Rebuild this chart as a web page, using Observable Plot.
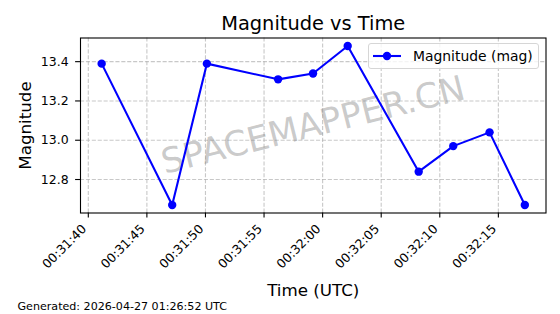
<!DOCTYPE html>
<html>
<head>
<meta charset="utf-8">
<script src="https://cdn.jsdelivr.net/npm/d3@7"></script>
<script src="https://cdn.jsdelivr.net/npm/@observablehq/plot@0.6"></script>
<style>
  html, body { margin: 0; padding: 0; background: white; }
  #wrap { position: relative; width: 560px; height: 314px; font-family: "DejaVu Sans", sans-serif; }
  #legend { position: absolute; left: 368px; top: 43px; width: 171px; height: 26px;
    border: 1px solid #d6d6d6; border-radius: 3px; background: rgba(255,255,255,0.8);
    display: flex; align-items: center; box-sizing: border-box; }
  #legend span { font-size: 13.9px; color: #000; margin-left: 10px; white-space: nowrap; }
</style>
</head>
<body>
<div id="wrap"></div>
<script>
// ---- data ----
const day = "2026-04-27";
const times = ["00:31:41.14","00:31:47.16","00:31:50.12","00:31:56.20","00:31:59.18",
               "00:32:02.14","00:32:08.20","00:32:11.15","00:32:14.25","00:32:17.26"];
const mags = [13.39, 12.67, 13.39, 13.31, 13.34, 13.48, 12.84, 12.97, 13.04, 12.67];
const xTickLabels = ["00:31:40","00:31:45","00:31:50","00:31:55","00:32:00","00:32:05","00:32:10","00:32:15"];
const yTicks = [12.8, 13.0, 13.2, 13.4];
const title = "Magnitude vs Time";
const xLabel = "Time (UTC)";
const yLabel = "Magnitude";
const seriesName = "Magnitude (mag)";
const watermark = "SPACEMAPPER.CN";
const footer = "Generated: 2026-04-27 01:26:52 UTC";

// ---- build ----
const parse = s => new Date(`${day}T${s}Z`);
const data = times.map((t, i) => ({t: parse(t), m: mags[i]}));
const xTicks = xTickLabels.map(parse);
const fmt = d3.utcFormat("%H:%M:%S");

function pad(ext) { const s = ext[1] - ext[0]; return [+ext[0] - 0.05 * s, +ext[1] + 0.05 * s]; }
const xd = pad(d3.extent(data, d => +d.t)).map(v => new Date(v));
const yd = pad(d3.extent(data, d => d.m));

const gridStyle = {stroke: "#b0b0b0", strokeOpacity: 0.7, strokeDasharray: "4.1,1.8", strokeWidth: 1.1};

const chart = Plot.plot({
  width: 560, height: 314,
  marginLeft: 80, marginRight: 14.5, marginTop: 37.5, marginBottom: 101.5,
  style: {fontFamily: "DejaVu Sans, sans-serif", fontSize: "12.5px", color: "black", background: "white", overflow: "visible"},
  x: {type: "utc", domain: xd},
  y: {domain: yd},
  marks: [
    Plot.gridX(xTicks, gridStyle),
    Plot.gridY(yTicks, gridStyle),
    Plot.text([watermark], {frameAnchor: "middle", text: d => d, rotate: -14, fontSize: 34.7,
      fill: "gray", fillOpacity: 0.42, textAnchor: "middle", lineAnchor: "middle"}),
    Plot.line(data, {x: "t", y: "m", stroke: "#0000ff", strokeWidth: 2.1}),
    Plot.dot(data, {x: "t", y: "m", r: 4.2, fill: "#0000ff", stroke: null}),
    Plot.frame({stroke: "black", strokeWidth: 1.1}),
    Plot.axisX({ticks: xTicks, tickSize: 4.9, tickFormat: () => "", label: null, strokeWidth: 1.1, stroke: "black"}),
    Plot.text(xTicks, {x: d => d, frameAnchor: "bottom", text: d => fmt(d), rotate: -45,
      textAnchor: "end", lineAnchor: "middle", dx: -4, dy: 13.8, fontSize: 12.5, fill: "black"}),
    Plot.axisY({ticks: yTicks, tickSize: 4.9, tickPadding: 7, tickFormat: d3.format(".1f"), label: null,
      fontSize: 12.5, strokeWidth: 1.1, stroke: "black", fill: "black"}),
    Plot.text([title], {frameAnchor: "top", text: d => d, dy: -8, lineAnchor: "bottom", fontSize: 19.4, fill: "black"}),
    Plot.text([xLabel], {frameAnchor: "bottom", text: d => d, dy: 82.8, lineAnchor: "bottom", fontSize: 16.7, fill: "black"}),
    Plot.text([yLabel], {frameAnchor: "left", text: d => d, rotate: -90, dx: -50, lineAnchor: "bottom",
      textAnchor: "middle", fontSize: 16.7, fill: "black"}),
    Plot.text([footer], {frameAnchor: "bottom-left", text: d => d, dx: -63, dy: 96.8, textAnchor: "start",
      lineAnchor: "bottom", fontSize: 11.1, fill: "black"})
  ]
});

const wrap = document.getElementById("wrap");
wrap.appendChild(chart);

const legend = document.createElement("div");
legend.id = "legend";
legend.innerHTML = `<svg width="34" height="24" style="margin-left:4px;flex:none">
  <line x1="0" x2="28" y1="12" y2="12" stroke="#0000ff" stroke-width="2.1"></line>
  <circle cx="14" cy="12" r="4.2" fill="#0000ff"></circle></svg><span></span>`;
legend.querySelector("span").textContent = seriesName;
legend.querySelector("span").style.marginLeft = "6px";
wrap.appendChild(legend);
</script>
</body>
</html>
